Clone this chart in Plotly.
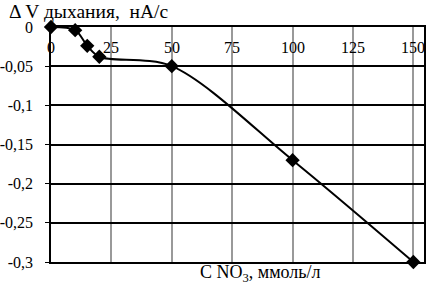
import plotly.graph_objects as go

conc = [0, 10, 15, 20, 50, 100, 150]
dv = [0, -0.004, -0.024, -0.038, -0.05, -0.17, -0.3]

x_ticks = [0, 25, 50, 75, 100, 125, 150]
y_ticks = [0, -0.05, -0.1, -0.15, -0.2, -0.25, -0.3]
y_labels = ["0", "-0,05", "-0,1", "-0,15", "-0,2", "-0,25", "-0,3"]

font = "Liberation Serif"

fig = go.Figure()
fig.add_trace(go.Scatter(
    x=conc, y=dv, mode="lines+markers",
    line=dict(color="black", width=2, shape="spline", smoothing=0.9),
    marker=dict(symbol="diamond", size=11, color="black"),
    cliponaxis=False, showlegend=False, hoverinfo="skip",
))

annotations = [
    dict(text=str(v), xref="x", yref="y", x=v, y=0, xanchor="center",
         yanchor="top", yshift=-10, showarrow=False,
         font=dict(family=font, size=16, color="black"))
    for v in x_ticks
]
annotations += [
    dict(text="Δ V дыхания,  нА/с", xref="paper", yref="paper",
         x=-0.118, y=1.0, xanchor="left", yanchor="bottom", yshift=3,
         showarrow=False, font=dict(family=font, size=19.5, color="black")),
    dict(text="C NO<sub>3</sub>, ммоль/л", xref="paper", yref="paper",
         x=0.394, y=0, xanchor="left", yanchor="top", yshift=2,
         showarrow=False, font=dict(family=font, size=18, color="black")),
]

fig.update_layout(
    template="none",
    width=426, height=285,
    margin=dict(l=51, r=2, t=27, b=23, autoexpand=False),
    paper_bgcolor="white", plot_bgcolor="white",
    font=dict(family=font, size=16, color="black"),
    xaxis=dict(
        range=[0, 154.4], side="top", tickvals=x_ticks, automargin=False,
        showticklabels=False, ticks="",
        showgrid=True, gridcolor="#999999", gridwidth=1.5,
        showline=True, linecolor="black", linewidth=1.5, mirror=True,
        zeroline=False,
    ),
    yaxis=dict(
        range=[-0.3, 0], tickvals=y_ticks, ticktext=y_labels, automargin=False,
        ticks="outside", ticklen=4, tickcolor="black", ticklabelstandoff=9,
        showgrid=True, gridcolor="black", gridwidth=1.5,
        showline=True, linecolor="black", linewidth=1.5, mirror=True,
        zeroline=False, tickfont=dict(family=font, size=16, color="black"),
    ),
    annotations=annotations,
)

fig.write_html("out.html", config={"displayModeBar": False},
               post_script="document.body.style.margin='0px';")
